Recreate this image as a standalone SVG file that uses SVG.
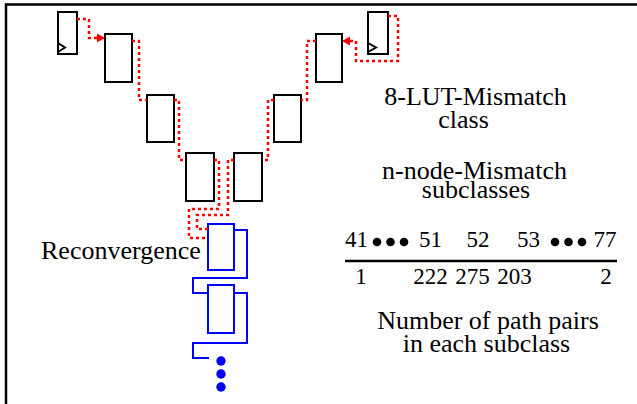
<svg xmlns="http://www.w3.org/2000/svg" width="637" height="404" viewBox="0 0 637 404">
<style>
.box{fill:#fff;stroke:#000;stroke-width:2}
.bbox{fill:#fff;stroke:#0000ff;stroke-width:2}
.red{fill:none;stroke:#ff0000;stroke-width:2.5;stroke-dasharray:3 3}
.blue{fill:none;stroke:#0000ff;stroke-width:2}
</style>
<rect width="637" height="404" fill="#fff"/>
<path d="M6,404 V4.5 H637" fill="none" stroke="#000" stroke-width="2.5"/>
<g id="ff-left"><rect class="box" x="58" y="12" width="19" height="42"/><path d="M58,43 L65,47.5 L58,52" fill="none" stroke="#000" stroke-width="2"/></g>
<g id="ff-right"><rect class="box" x="368" y="12" width="20" height="42"/><path d="M368,43 L376,47.5 L368,52" fill="none" stroke="#000" stroke-width="2"/></g>
<g id="lut-l1"><rect class="box" x="105" y="34" width="27" height="48"/></g>
<g id="lut-l2"><rect class="box" x="147" y="95" width="27" height="47"/></g>
<g id="lut-l3"><rect class="box" x="186" y="153" width="28" height="48"/></g>
<g id="lut-r1"><rect class="box" x="316" y="34" width="26" height="48"/></g>
<g id="lut-r2"><rect class="box" x="274" y="95" width="27" height="47"/></g>
<g id="lut-r3"><rect class="box" x="234" y="153" width="28" height="48"/></g>
<g id="reconv-a"><rect class="bbox" x="208" y="224" width="26" height="46"/></g>
<g id="reconv-b"><rect class="bbox" x="208" y="285" width="26" height="48"/></g>
<g id="connectors">
<path class="red" d="M77,19 H89 V38 H98"/>
<polygon points="105,38 97,33.5 97,42.5" fill="#ff0000"/>
<path class="red" d="M388,16 H398 V61 H356 V41 H349"/>
<polygon points="342,41 350,36.5 350,45.5" fill="#ff0000"/>
<path class="red" d="M132,41 H139 V100 H147"/>
<path class="red" d="M174,100 H179 V160 H186"/>
<path class="red" d="M316,41 H307 V100 H301"/>
<path class="red" d="M274,100 H268 V160 H262"/>
<path class="red" d="M214,160 H219 V209 H189 V238 H208"/>
<path class="red" d="M234,160 H228 V215 H197 V229 H208"/>
<path class="blue" d="M234,230 H247 V278 H193 V293 H208"/>
<path class="blue" d="M234,293 H247 V343 H193 V358 H209"/>
<g fill="#0000ff"><circle cx="221" cy="361" r="4.7"/><circle cx="221" cy="374" r="4.7"/><circle cx="221" cy="387" r="4.7"/></g>
</g>
<g id="labels" font-family="Liberation Serif, DejaVu Serif, serif" font-size="26" fill="#000">
<text x="41" y="259">Reconvergence</text>
<text x="475.5" y="105" text-anchor="middle">8-LUT-Mismatch</text>
<text x="463.5" y="128" text-anchor="middle">class</text>
<text x="474.5" y="179" text-anchor="middle">n-node-Mismatch</text>
<text x="476" y="198" text-anchor="middle">subclasses</text>
<text x="488" y="329" text-anchor="middle">Number of path pairs</text>
<text x="486.5" y="352" text-anchor="middle">in each subclass</text>
</g>
<g id="table">
<g font-family="Liberation Serif, DejaVu Serif, serif" font-size="23" fill="#000" text-anchor="middle">
<text x="356.5" y="247">41</text><text x="430.5" y="247">51</text><text x="478" y="247">52</text><text x="528.5" y="247">53</text><text x="605" y="247">77</text>
<text x="361" y="284">1</text><text x="430.5" y="284">222</text><text x="472.5" y="284">275</text><text x="514.5" y="284">203</text><text x="606" y="284">2</text>
</g>
<g fill="#000"><circle cx="377" cy="242" r="4.3"/><circle cx="390.5" cy="242" r="4.3"/><circle cx="404" cy="242" r="4.3"/>
<circle cx="555" cy="242" r="4.3"/><circle cx="568.5" cy="242" r="4.3"/><circle cx="582" cy="242" r="4.3"/></g>
<line x1="345" y1="261" x2="617" y2="261" stroke="#000" stroke-width="2.5"/>
</g>
</svg>
